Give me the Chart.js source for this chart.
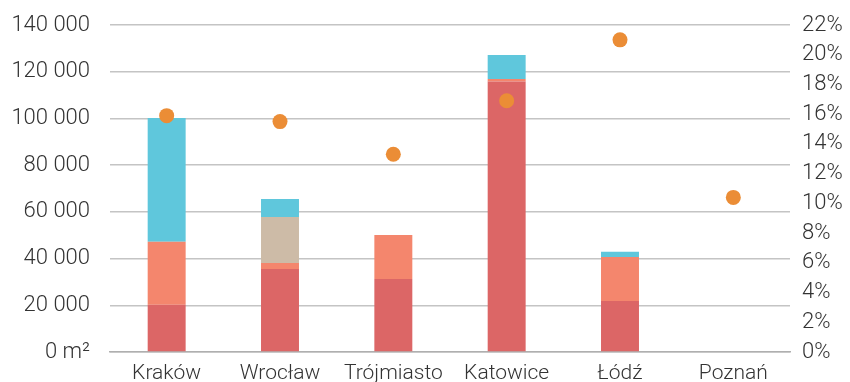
<!DOCTYPE html>
<html><head><meta charset="utf-8">
<script src="https://cdn.jsdelivr.net/npm/chart.js@4/dist/chart.umd.min.js"></script>
<style>html,body{margin:0;padding:0;background:#fff;overflow:hidden}#w{width:850px;height:382px}</style>
</head><body><div id="w"><canvas id="c"></canvas></div>
<script>
const categories = ["Kraków","Wrocław","Trójmiasto","Katowice","Łódź","Poznań"];
const seriesRed = [20200, 35500, 31300, 115800, 21800, 0];
const seriesSalmon = [27000, 2600, 18800, 1100, 18900, 0];
const seriesBeige = [0, 19700, 0, 0, 0, 0];
const seriesCyan = [53000, 7700, 0, 10300, 2200, 0];
const seriesPct = [15.9, 15.5, 13.3, 16.9, 21.0, 10.4];
const leftTicks = [0,20000,40000,60000,80000,100000,120000,140000];
const rightTicks = [0,2,4,6,8,10,12,14,16,18,20,22];

const fntX = {family: "Roboto", size: 21, weight: 300};
const fntY = {family: "Roboto", size: 22, weight: 300};
const fmt = v => v === 0 ? "0 m\u00B2" : String(v).replace(/\B(?=(\d{3})+(?!\d))/g, "\u00A0");
const fixV = w => a => { a.width = w; a.paddingTop = 0; a.paddingBottom = 0; };

new Chart(document.getElementById('c'), {
  type: 'bar',
  data: {
    labels: categories,
    datasets: [
      {type:'line', data: seriesPct, yAxisID:'y1', showLine:false, pointRadius:7.5, pointHoverRadius:7.5,
       pointBackgroundColor:'#EB8D36', pointBorderWidth:0, borderColor:'#EB8D36', order:0},
      {data: seriesRed, backgroundColor:'#DC6666', order:1},
      {data: seriesSalmon, backgroundColor:'#F4866D', order:1},
      {data: seriesBeige, backgroundColor:'#CDBBA7', order:1},
      {data: seriesCyan, backgroundColor:'#5FC7DC', order:1}
    ]
  },
  options: {
    responsive:true, maintainAspectRatio:false, animation:false,
    layout:{padding:{top:25, bottom:0, left:0, right:0}},
    plugins:{legend:{display:false}, tooltip:{enabled:false}},
    datasets:{bar:{categoryPercentage:1, barPercentage:0.335}},
    scales:{
      x:{stacked:true, grid:{display:false, drawTicks:false},
         border:{display:true, color:'#AFAFAF', width:1.5},
         afterFit: a => { a.height = a.chart.height - 352; a.paddingLeft = 0; a.paddingRight = 0; },
         ticks:{color:'#333', font:fntX, padding:9, autoSkip:false, maxRotation:0}},
      y:{stacked:true, position:'left', min:0, max:140000,
         afterBuildTicks: a => { a.ticks = leftTicks.map(v=>({value:v})); },
         afterFit: fixV(110),
         grid:{color:'#C4C4C4', lineWidth:1.5, drawTicks:false},
         border:{display:false},
         ticks:{color:'#333', font:fntY, padding:20, autoSkip:false, callback: v => fmt(v)}},
      y1:{position:'right', min:0, max:22,
         afterBuildTicks: a => { a.ticks = rightTicks.map(v=>({value:v})); },
         afterFit: fixV(60),
         grid:{display:false, drawTicks:false}, border:{display:false},
         ticks:{color:'#333', font:fntY, padding:12, autoSkip:false, callback: v => v + "%"}}
    }
  }
});
</script></body></html>
